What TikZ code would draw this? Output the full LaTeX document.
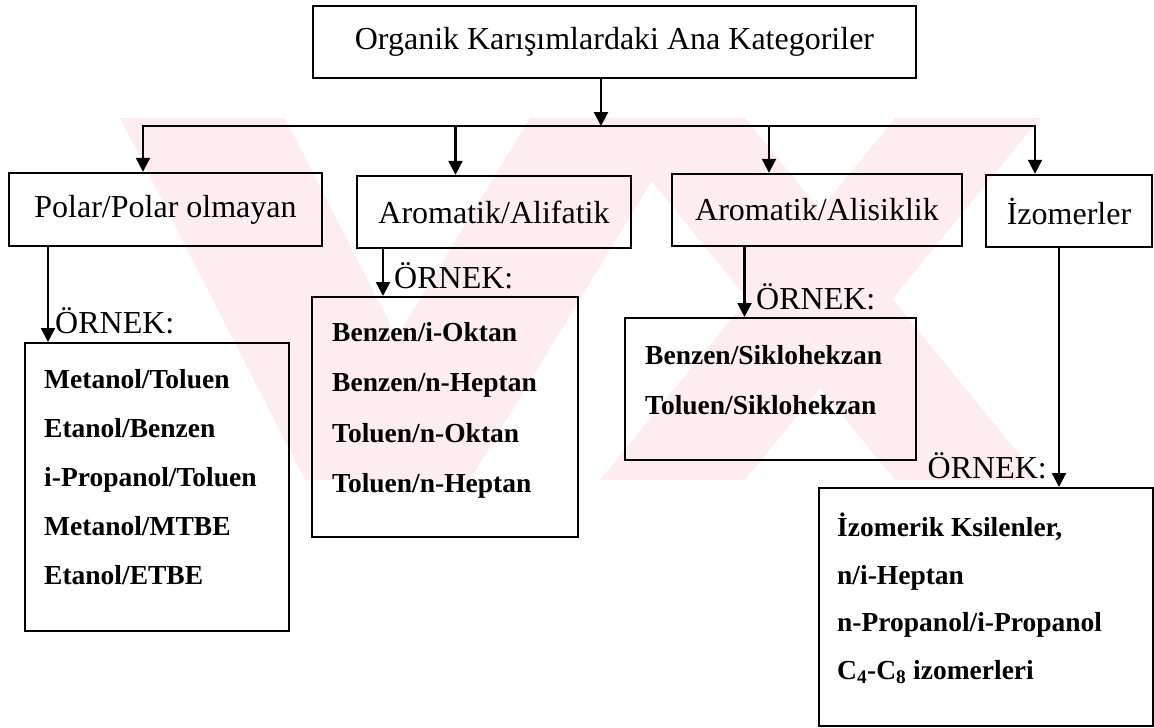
\documentclass[tikz,border=0pt]{standalone}
\usepackage{fontspec}
\setmainfont{Liberation Serif}
\usetikzlibrary{calc}
\usetikzlibrary{arrows.meta}
\definecolor{wmpink}{RGB}{253,237,240}

\begin{document}
\begin{tikzpicture}[x = 1pt, y = -1pt,
    catbox/.style = {draw, line width = 2.4pt, inner sep = 0pt, font = \fontsize{32}{38}\selectfont},
    listbox/.style = {draw, line width = 2.4pt, inner sep = 0pt},
    listtext/.style = {align = left, inner sep = 0pt, anchor = north west},
    ornek/.style = {inner sep = 0pt, font = \fontsize{32}{38}\selectfont},
    arr/.style = {line width = 2.2pt, -{Triangle[length = 14pt, width = 14pt]}}]
    \useasboundingbox (0, 0) rectangle (1154, 728);
    % watermark
    \begin{scope}
        \clip (0, 118) rectangle (1154, 480);
        \fill [wmpink] (120, 118) -- (285, 118) -- (470, 480) -- (305, 480) -- cycle;
        \fill [wmpink] (530, 118) -- (690, 118) -- (470, 480) -- (310, 480) -- cycle;
        \fill [wmpink] (600, 118) -- (745, 118) -- (1040, 480) -- (895, 480) -- cycle;
        \fill [wmpink] (895, 118) -- (1040, 118) -- (745, 480) -- (600, 480) -- cycle;
    \end{scope}
    % categories
    \node [catbox, minimum width = 603, minimum height = 72] (top) at (614.5, 42) {Organik Karışımlardaki Ana Kategoriler};
    \node [catbox, minimum width = 313, minimum height = 73] (polar) at (165.5, 209.5) {Polar/Polar olmayan};
    \node [catbox, minimum width = 274, minimum height = 72] (alifatik) at (494, 212) {Aromatik/Alifatik};
    \node [catbox, minimum width = 290, minimum height = 72] (alisiklik) at (817, 210) {Aromatik/Alisiklik};
    \node [catbox, minimum width = 166, minimum height = 72] (izomer) at (1069, 211) {İzomerler};
    % example boxes
    \node [listbox, minimum width = 264, minimum height = 288, anchor = north west] (plist) at (24, 342) {};
    \node [listbox, minimum width = 266, minimum height = 240, anchor = north west] (alist) at (311, 296) {};
    \node [listbox, minimum width = 291, minimum height = 142, anchor = north west] (slist) at (624, 317) {};
    \node [listbox, minimum width = 334, minimum height = 238, anchor = north west] (ilist) at (818, 487) {};
    \node [listtext, font = \bfseries\fontsize{27.5}{49}\selectfont] (ptext) at ($(plist.north west) + (20, 27)$)
        {Metanol/Toluen\\Etanol/Benzen\\i-Propanol/Toluen\\Metanol/MTBE\\Etanol/ETBE};
    \node [listtext, font = \bfseries\fontsize{27.5}{50.5}\selectfont] (atext) at ($(alist.north west) + (21, 26)$)
        {Benzen/i-Oktan\\Benzen/n-Heptan\\Toluen/n-Oktan\\Toluen/n-Heptan};
    \node [listtext, font = \bfseries\fontsize{27.5}{50}\selectfont] (stext) at ($(slist.north west) + (21, 28)$)
        {Benzen/Siklohekzan\\Toluen/Siklohekzan};
    \node [listtext, font = \bfseries\fontsize{27.5}{47.5}\selectfont] (itext) at ($(ilist.north west) + (19, 26)$)
        {İzomerik Ksilenler,\\n/i-Heptan\\n-Propanol/i-Propanol\\C\textsubscript{4}-C\textsubscript{8} izomerleri};
    \node [ornek, anchor = base west] (ornekP) at (55, 333) {ÖRNEK:};
    \node [ornek, anchor = base west] (ornekA) at (394, 288) {ÖRNEK:};
    \node [ornek, anchor = base west] (ornekS) at (756, 309) {ÖRNEK:};
    \node [ornek, anchor = base east] (ornekI) at (1047, 478) {ÖRNEK:};
    % connectors
    \coordinate (hub) at (601, 126);
    \coordinate (b1) at (143, 126);
    \coordinate (b2) at (455.5, 126);
    \coordinate (b3) at (769, 126);
    \coordinate (b4) at (1035, 126);
    \draw [arr] (hub |- top.south) -- (hub);
    \draw [arr] (hub) -| (b1 |- polar.north);
    \draw [arr] (hub) -| (b4 |- izomer.north);
    \draw [arr] (b2) -- (b2 |- alifatik.north);
    \draw [arr] (b3) -- (b3 |- alisiklik.north);
    \coordinate (vP) at (48, 0);
    \coordinate (vA) at (383, 0);
    \coordinate (vS) at (744.5, 0);
    \coordinate (vI) at (1059, 0);
    \draw [arr] (vP |- polar.south) -- (vP |- plist.north);
    \draw [arr] (vA |- alifatik.south) -- (vA |- alist.north);
    \draw [arr] (vS |- alisiklik.south) -- (vS |- slist.north);
    \draw [arr] (vI |- izomer.south) -- (vI |- ilist.north);
\end{tikzpicture}
\end{document}
